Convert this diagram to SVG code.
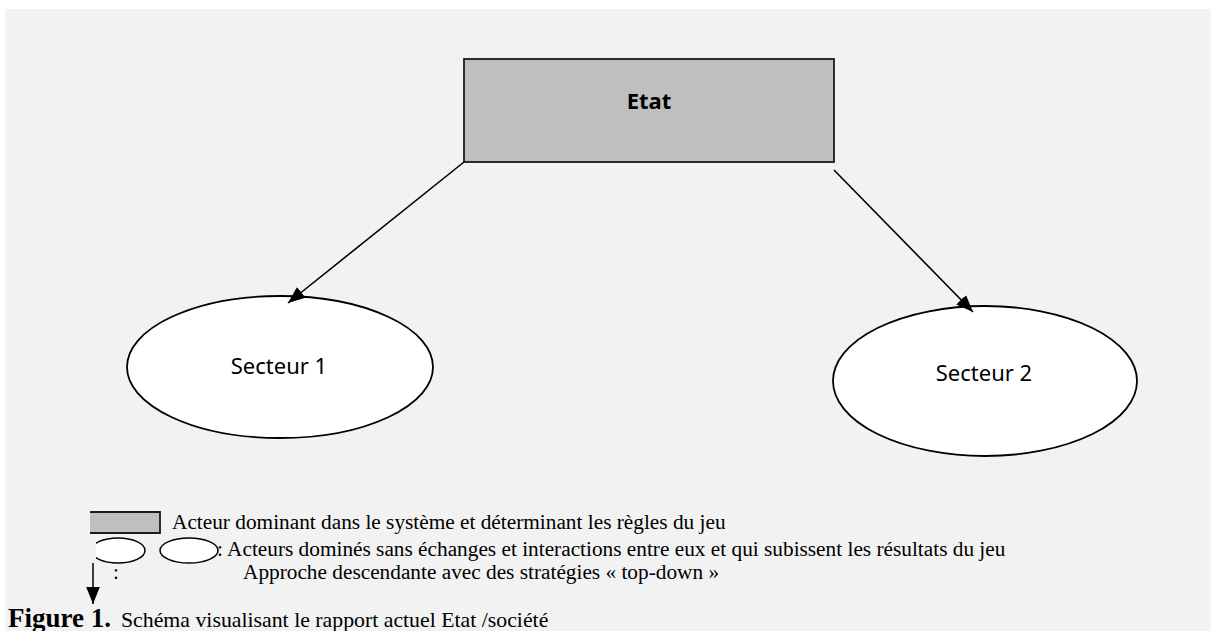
<svg xmlns="http://www.w3.org/2000/svg" width="1211" height="631" viewBox="0 0 1211 631">
<defs>
<marker id="ahl" viewBox="0 0 10 10" refX="10" refY="5" markerWidth="17" markerHeight="17" markerUnits="userSpaceOnUse" orient="auto"><path d="M0,1 L10,5 L0,9 z" fill="#000"/></marker>
</defs>
<style>
.node-text{font-family:"Noto Sans","Open Sans","DejaVu Sans",sans-serif;font-size:22px;fill:#000;text-anchor:middle}
.legend{font-family:"Liberation Serif","Times New Roman",serif;font-size:21.3px;fill:#000}
.conn{stroke:#000;stroke-width:1.6;fill:none}
</style>
<rect x="0" y="0" width="1211" height="631" fill="#ffffff"/>
<rect x="5" y="9" width="1206" height="622" fill="#f2f2f2"/>
<g id="etat">
<rect x="464" y="59" width="370" height="103" fill="#bfbfbf" stroke="#1a1a1a" stroke-width="1.8"/>
<text class="node-text" x="649" y="109" font-weight="bold">Etat</text>
</g>
<g id="secteur1">
<ellipse cx="280" cy="367" rx="153" ry="71" fill="#fff" stroke="#000" stroke-width="1.8"/>
<text class="node-text" x="279" y="374">Secteur 1</text>
</g>
<g id="secteur2">
<ellipse cx="985" cy="381" rx="152" ry="75" fill="#fff" stroke="#000" stroke-width="1.8"/>
<text class="node-text" x="984" y="381">Secteur 2</text>
</g>
<g id="connectors">
<line class="conn" x1="464" y1="162" x2="288" y2="303" marker-end="url(#ahl)"/>
<line class="conn" x1="834" y1="170" x2="973" y2="312" marker-end="url(#ahl)"/>
</g>
<g id="legend">
<rect x="90" y="512" width="70" height="21" fill="#bfbfbf"/>
<path d="M90,512 H160 V533 H90" fill="none" stroke="#1a1a1a" stroke-width="1.8"/>
<text class="legend" x="172" y="529">Acteur dominant dans le système et déterminant les règles du jeu</text>
<ellipse cx="118" cy="550.5" rx="27" ry="12.5" fill="#fff" stroke="#000" stroke-width="1.5"/>
<rect x="88" y="536" width="8" height="30" fill="#f2f2f2"/>
<ellipse cx="189" cy="550.5" rx="29" ry="12.5" fill="#fff" stroke="#000" stroke-width="1.5"/>
<text class="legend" x="217" y="556">: Acteurs dominés sans échanges et interactions entre eux et qui subissent les résultats du jeu</text>
<line x1="93" y1="563" x2="93" y2="604" stroke="#000" stroke-width="1.5" marker-end="url(#ahl)"/>
<text class="legend" x="113" y="579">:</text>
<text class="legend" x="243" y="579">Approche descendante avec des stratégies « top-down »</text>
<text class="legend" x="8" y="627" style="font-weight:bold;font-size:27px">Figure 1.</text>
<text class="legend" x="121" y="627" style="font-size:21.8px">Schéma visualisant le rapport actuel Etat /société</text>
</g>
</svg>
